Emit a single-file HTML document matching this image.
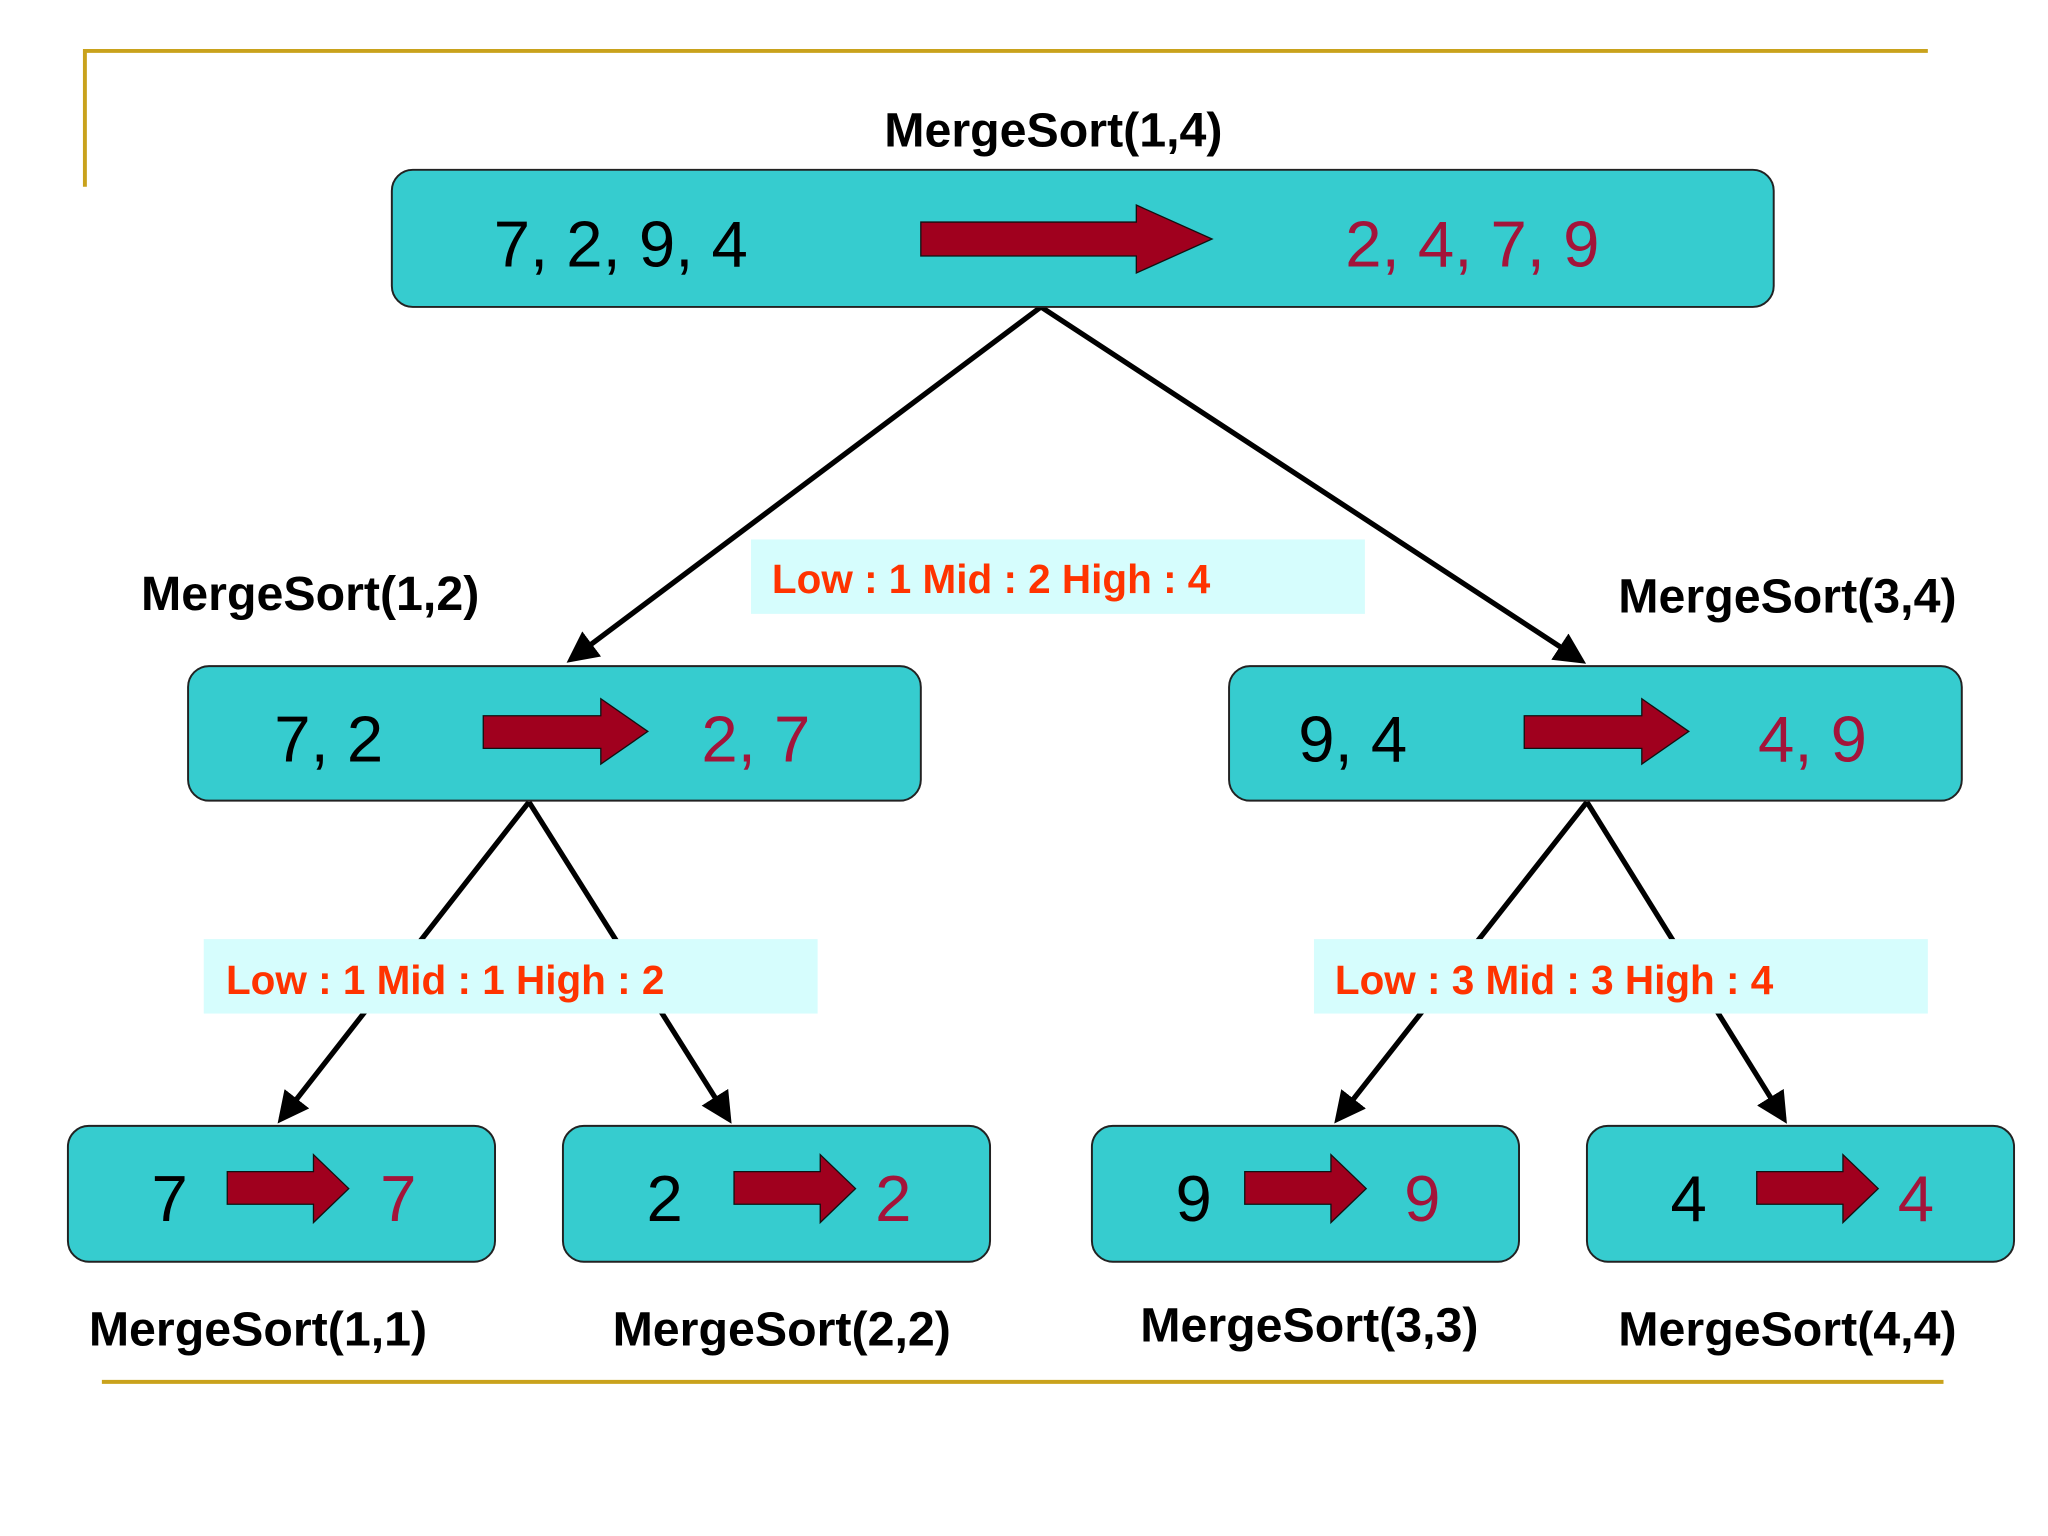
<!DOCTYPE html>
<html><head><meta charset="utf-8"><style>html,body{margin:0;padding:0;background:#fff}svg{display:block}</style></head><body>
<svg width="2048" height="1536" viewBox="0 0 1568 1176" xmlns="http://www.w3.org/2000/svg" font-family="Liberation Sans, Arial, sans-serif">
<defs>
<marker id="ah" markerWidth="6" markerHeight="6" refX="5" refY="3" orient="auto" markerUnits="strokeWidth"><path d="M0,0 L6,3 L0,6 Z" fill="#000"/></marker>
</defs>
<rect width="1568" height="1176" fill="#fff"/>
<g stroke="#c9a21c" stroke-width="3" fill="none">
<polyline points="65,143 65,39 1476,39"/>
<line x1="78" y1="1058" x2="1488" y2="1058"/>
</g>
<g stroke="#000" stroke-width="4" marker-end="url(#ah)" fill="none">
<line x1="797" y1="235" x2="437" y2="505"/>
<line x1="797" y1="235" x2="1211" y2="506"/>
<line x1="405" y1="614" x2="215" y2="857"/>
<line x1="405" y1="614" x2="558" y2="857"/>
<line x1="1215" y1="614" x2="1024" y2="857"/>
<line x1="1215" y1="614" x2="1366" y2="857"/>
</g>
<g fill="#36cccf" stroke="#222" stroke-width="1.5">
<rect x="300" y="130" width="1058" height="105" rx="16"/>
<rect x="144" y="510" width="561" height="103" rx="16"/>
<rect x="941" y="510" width="561" height="103" rx="16"/>
<rect x="52" y="862" width="327" height="104" rx="16"/>
<rect x="431" y="862" width="327" height="104" rx="16"/>
<rect x="836" y="862" width="327" height="104" rx="16"/>
<rect x="1215" y="862" width="327" height="104" rx="16"/>
</g>
<g fill="#a0001e" stroke="#111" stroke-width="1">
<path d="M705,170 H870 V157 L928,183 L870,209 V196 H705 Z"/>
<path d="M370,548 H460 V535 L496,560 L460,585 V573 H370 Z"/>
<path d="M1167,548 H1257 V535 L1293,560 L1257,585 V573 H1167 Z"/>
<path d="M174,897 H240 V884 L267,910 L240,936 V922 H174 Z"/>
<path d="M562,897 H628 V884 L655,910 L628,936 V922 H562 Z"/>
<path d="M953,897 H1019 V884 L1046,910 L1019,936 V922 H953 Z"/>
<path d="M1345,897 H1411 V884 L1438,910 L1411,936 V922 H1345 Z"/>
</g>
<g fill="#d6fdfd">
<rect x="575" y="413" width="470" height="57"/>
<rect x="156" y="719" width="470" height="57"/>
<rect x="1006" y="719" width="470" height="57"/>
</g>
<g fill="#ff3300" font-weight="bold" font-size="31" xml:space="preserve">
<text x="591" y="454">Low : 1  Mid : 2    High : 4</text>
<text x="173" y="761">Low : 1  Mid : 1    High : 2</text>
<text x="1022" y="761">Low : 3  Mid : 3    High : 4</text>
</g>
<g font-size="50" fill="#000">
<text x="378" y="204">7, 2, 9, 4</text>
<text x="210" y="583">7, 2</text>
<text x="994" y="583">9, 4</text>
<text x="116" y="935">7</text>
<text x="495" y="935">2</text>
<text x="900" y="935">9</text>
<text x="1279" y="935">4</text>
</g>
<g font-size="50" fill="#a3143a">
<text x="1030" y="204">2, 4, 7, 9</text>
<text x="537" y="583">2, 7</text>
<text x="1346" y="583">4, 9</text>
<text x="291" y="935">7</text>
<text x="670" y="935">2</text>
<text x="1075" y="935">9</text>
<text x="1453" y="935">4</text>
</g>
<g font-size="37" font-weight="bold" fill="#000">
<text x="677" y="112">MergeSort(1,4)</text>
<text x="108" y="467">MergeSort(1,2)</text>
<text x="1239" y="469">MergeSort(3,4)</text>
<text x="68" y="1030">MergeSort(1,1)</text>
<text x="469" y="1030">MergeSort(2,2)</text>
<text x="873" y="1027">MergeSort(3,3)</text>
<text x="1239" y="1030">MergeSort(4,4)</text>
</g>
</svg>
</body></html>
